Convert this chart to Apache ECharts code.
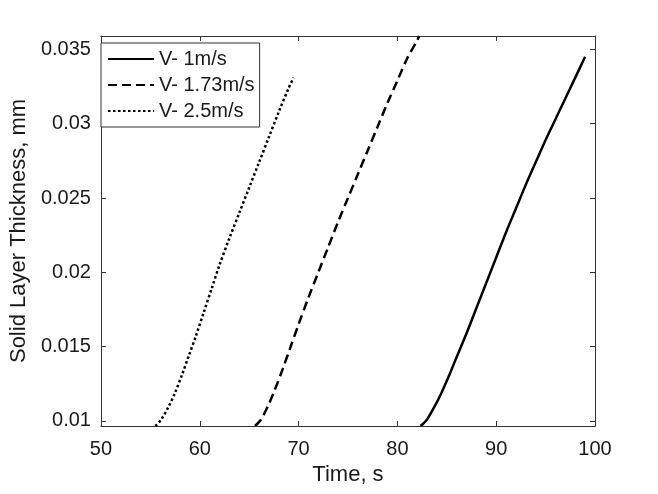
<!DOCTYPE html>
<html>
<head>
<meta charset="utf-8">
<script src="https://cdn.jsdelivr.net/npm/echarts@6/dist/echarts.min.js"></script>
<style>
  html, body { margin: 0; padding: 0; background: #fff; }
  #chart { width: 658px; height: 494px; }
</style>
</head>
<body>
<div id="chart"></div>
<script>
// series names
const seriesNames = ['V- 1m/s', 'V- 1.73m/s', 'V- 2.5m/s'];

// V- 1m/s (solid)
const timeV1 = [82.35, 83.0, 83.7, 84.4, 85.2, 86.0, 87.0, 88.0, 89.0, 90.0, 91.0, 92.0, 93.0, 94.0, 95.0, 96.0, 97.0, 98.0, 99.0];
const thickV1 = [0.00966, 0.0101, 0.0109, 0.0118, 0.0130, 0.0143, 0.0159, 0.0176, 0.0193, 0.0210, 0.0227, 0.0243, 0.0259, 0.0274, 0.0289, 0.0303, 0.0317, 0.0331, 0.0345];

// V- 1.73m/s (dashed)
const timeV173 = [65.6, 66.2, 66.9, 67.6, 68.4, 69.2, 70.0, 71.0, 72.0, 73.0, 74.0, 75.0, 76.0, 77.0, 78.0, 79.0, 80.0, 81.0, 82.0, 82.2];
const thickV173 = [0.00966, 0.0101, 0.0110, 0.0121, 0.0135, 0.0150, 0.0165, 0.0183, 0.0200, 0.0217, 0.0234, 0.0250, 0.0266, 0.0282, 0.0298, 0.0314, 0.0329, 0.0344, 0.0356, 0.0359];

// V- 2.5m/s (dotted)
const timeV25 = [55.5, 56.1, 56.8, 57.5, 58.2, 58.9, 59.6, 60.4, 61.2, 62.0, 63.0, 64.0, 65.0, 66.0, 67.0, 68.0, 69.0, 69.5];
const thickV25 = [0.00966, 0.0101, 0.0109, 0.0119, 0.0131, 0.0144, 0.0157, 0.0173, 0.0189, 0.0205, 0.0223, 0.0240, 0.0257, 0.0274, 0.0291, 0.0308, 0.0324, 0.0331];

// axis ranges
const xMin = 50, xMax = 100, xStep = 10;
const yMin = 0.00966, yMax = 0.0359, yStep = 0.005;

function pairs(xs, ys) {
    return xs.map((x, i) => [x, ys[i]]);
}

const font = "'Liberation Sans', Arial, Helvetica, sans-serif";
const axisColor = '#333333';
const textColor = '#1a1a1a';

// only label the 0.005 multiples, not the axis ends
function yLabel(v) {
    const k = v / yStep;
    if (Math.abs(k - Math.round(k)) > 1e-6) return '';
    return String(+v.toFixed(3));
}

const chart = echarts.init(document.getElementById('chart'));

const baseX = {
    type: 'value',
    min: xMin,
    max: xMax,
    interval: xStep,
    splitLine: { show: false },
    axisLine: { show: true, lineStyle: { color: axisColor, width: 1 } },
    axisTick: { show: true, inside: true, length: 5, lineStyle: { color: axisColor } }
};

const baseY = {
    type: 'value',
    min: yMin,
    max: yMax,
    splitNumber: 5,
    splitLine: { show: false },
    axisLine: { show: true, lineStyle: { color: axisColor, width: 1 } },
    axisTick: { show: true, inside: true, length: 5, lineStyle: { color: axisColor } }
};

const option = {
    animation: false,
    backgroundColor: '#fff',
    textStyle: { fontFamily: font },
    grid: { left: 98, right: 63, top: 36, bottom: 68, containLabel: false },
    legend: {
        orient: 'vertical',
        left: 101,
        top: 43,
        data: seriesNames,
        itemWidth: 46,
        itemHeight: 14,
        itemGap: 6,
        padding: [6, 5, 6, 6],
        borderColor: axisColor,
        borderWidth: 1,
        backgroundColor: '#fff',
        itemStyle: { opacity: 0, color: 'rgba(0,0,0,0)', borderWidth: 0 },
        textStyle: { fontSize: 20, color: textColor, fontFamily: font, lineHeight: 20 }
    },
    xAxis: [
        Object.assign({}, baseX, {
            position: 'bottom',
            name: 'Time, s',
            nameLocation: 'middle',
            nameGap: 34,
            nameTextStyle: { fontSize: 22, color: textColor, fontFamily: font },
            axisLabel: { fontSize: 20, color: textColor, margin: 13, fontFamily: font }
        }),
        Object.assign({}, baseX, {
            position: 'top',
            axisLabel: { show: false }
        })
    ],
    yAxis: [
        Object.assign({}, baseY, {
            position: 'left',
            name: 'Solid Layer Thickness, mm',
            nameLocation: 'middle',
            nameGap: 67,
            nameTextStyle: { fontSize: 22, color: textColor, fontFamily: font },
            axisLabel: { fontSize: 20, color: textColor, margin: 10, fontFamily: font, formatter: yLabel }
        }),
        Object.assign({}, baseY, {
            position: 'right',
            axisLabel: { show: false }
        })
    ],
    series: [
        {
            name: seriesNames[0],
            type: 'line',
            data: pairs(timeV1, thickV1),
            showSymbol: false,
            symbol: 'none',
            smooth: 0.3,
            lineStyle: { color: '#000', width: 2.5, type: 'solid' },
            itemStyle: { color: '#000' }
        },
        {
            name: seriesNames[1],
            type: 'line',
            data: pairs(timeV173, thickV173),
            showSymbol: false,
            symbol: 'none',
            smooth: 0.3,
            lineStyle: { color: '#000', width: 2.5, type: [9, 5] },
            itemStyle: { color: '#000' }
        },
        {
            name: seriesNames[2],
            type: 'line',
            data: pairs(timeV25, thickV25),
            showSymbol: false,
            symbol: 'none',
            smooth: 0.3,
            lineStyle: { color: '#000', width: 2.5, type: [2.5, 2.5] },
            itemStyle: { color: '#000' }
        }
    ]
};

chart.setOption(option);
</script>
</body>
</html>
